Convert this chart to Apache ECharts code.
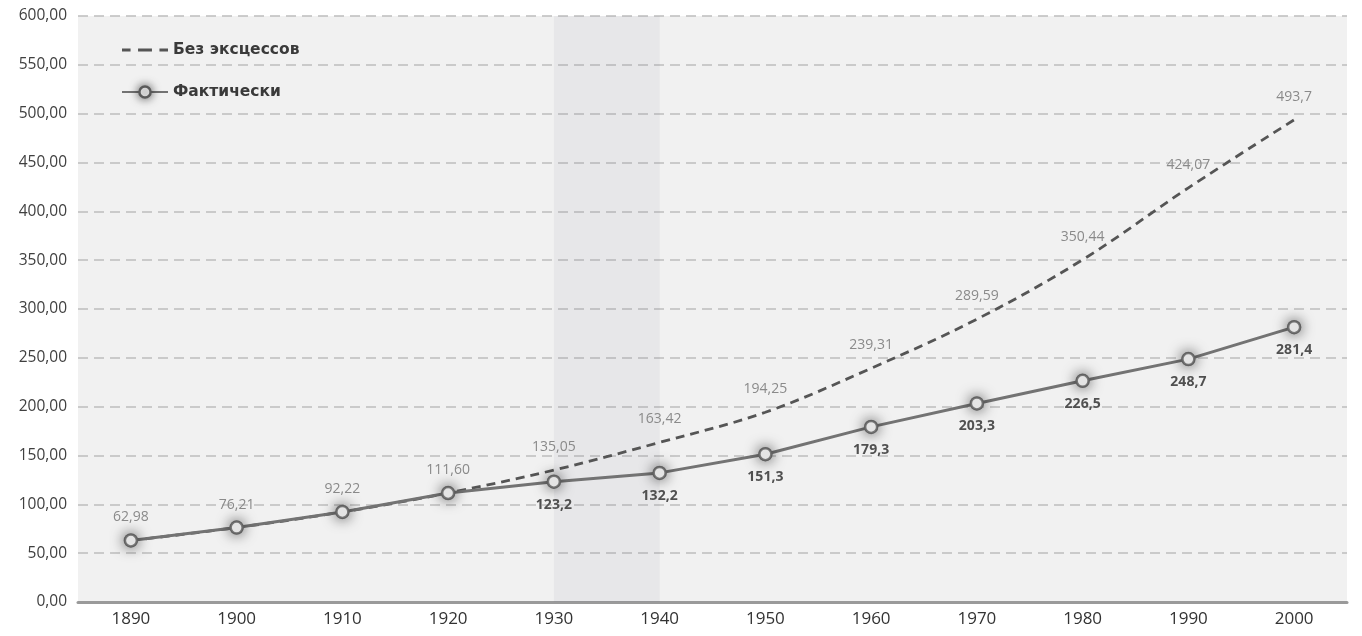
<!DOCTYPE html>
<html>
<head>
<meta charset="utf-8">
<script src="https://cdn.jsdelivr.net/npm/echarts@6/dist/echarts.min.js"></script>
<style>
html,body{margin:0;padding:0;background:#fff;}
#chart{width:1362px;height:636px;}
</style>
</head>
<body>
<div id="chart"></div>
<script>
const years = ['1890','1900','1910','1920','1930','1940','1950','1960','1970','1980','1990','2000'];
const noExcess = [62.98, 76.21, 92.22, 111.60, 135.05, 163.42, 194.25, 239.31, 289.59, 350.44, 424.07, 493.7];
const noExcessLabels = ['62,98','76,21','92,22','111,60','135,05','163,42','194,25','239,31','289,59','350,44','424,07','493,7'];
const actual = [62.98, 76.21, 92.22, 111.60, 123.2, 132.2, 151.3, 179.3, 203.3, 226.5, 248.7, 281.4];
const actualLabels = ['','','','','123,2','132,2','151,3','179,3','203,3','226,5','248,7','281,4'];
const bandFrom = '1930', bandTo = '1940';
const seriesNames = ['Без эксцессов', 'Фактически'];

const FONT = '"Open Sans", "DejaVu Sans", sans-serif';
const chart = echarts.init(document.getElementById('chart'));
chart.setOption({
  backgroundColor: '#ffffff',
  animation: false,
  textStyle: { fontFamily: FONT },
  grid: { left: 78, right: 15, top: 16, bottom: 34, show: true, backgroundColor: '#f1f1f1', borderWidth: 0 },
  legend: {
    orient: 'vertical', left: 116, top: 37, itemGap: 26, itemWidth: 46, itemHeight: 14,
    data: [
      { name: seriesNames[0], icon: 'path://M0,6h8v2.6h-8z M15,6h13v2.6h-13z M35,6h8v2.6h-8z' },
      { name: seriesNames[1], itemStyle: { color: '#ffffff', borderColor: '#5a5a5a', borderWidth: 2.5, shadowBlur: 10, shadowColor: 'rgba(0,0,0,0.6)' } }
    ],
    textStyle: { fontFamily: '"DejaVu Sans", sans-serif', fontSize: 15.5, fontWeight: 'bold', color: '#3a3a3a' }
  },
  xAxis: {
    type: 'category', data: years, boundaryGap: true,
    axisLine: { lineStyle: { color: '#9a9a9a', width: 3 } },
    axisTick: { alignWithLabel: true, length: 5, lineStyle: { color: '#aaa', width: 1.5 } },
    axisLabel: { color: '#333', fontSize: 17, margin: 9, fontFamily: FONT },
    splitLine: { show: false }
  },
  yAxis: {
    type: 'value', min: 0, max: 600, interval: 50,
    axisLine: { show: false }, axisTick: { show: false },
    axisLabel: { color: '#404040', fontSize: 15.5, margin: 11, fontFamily: FONT,
      formatter: v => v.toFixed(2).replace('.', ',') },
    splitLine: { lineStyle: { color: '#bdbdbd', width: 1.5, type: [10, 6] } }
  },
  series: [
    {
      name: seriesNames[0], type: 'line', data: noExcess, smooth: 0.35,
      symbol: 'circle', symbolSize: 0.1, showSymbol: true, z: 2,
      lineStyle: { color: '#555', width: 2.8, type: [9, 6] },
      itemStyle: { color: '#555' },
      label: { show: true, position: 'top', distance: 16, color: '#8a8a8a', fontSize: 14, fontFamily: FONT,
        formatter: p => noExcessLabels[p.dataIndex] },
      markArea: { silent: true, itemStyle: { color: 'rgba(120,120,140,0.08)' },
        data: [[{ xAxis: bandFrom }, { xAxis: bandTo }]] }
    },
    {
      name: seriesNames[1], type: 'line', data: actual, z: 3,
      symbol: 'circle', symbolSize: 14, showSymbol: true,
      lineStyle: { color: '#737373', width: 3 },
      itemStyle: { color: '#777', shadowBlur: 14, shadowColor: 'rgba(0,0,0,0.75)' },
      label: { show: true, position: 'bottom', distance: 9, color: '#505050', fontSize: 14, fontWeight: 'bold', fontFamily: FONT,
        formatter: p => actualLabels[p.dataIndex] }
    },
    {
      name: seriesNames[1] + ' ', type: 'scatter', data: actual, z: 4, silent: true,
      symbol: 'circle', symbolSize: 12,
      itemStyle: { color: '#ffffff', borderColor: '#5a5a5a', borderWidth: 2.5 }
    }
  ]
});
</script>
</body>
</html>
